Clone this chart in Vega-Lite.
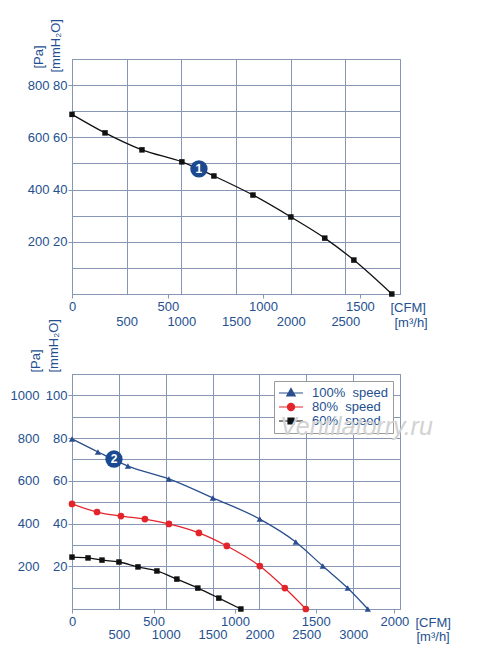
{
  "$schema": "https://vega.github.io/schema/vega-lite/v6.json",
  "padding": {"left": 9, "top": 18, "right": 5, "bottom": 5},
  "background": "white",
  "bounds": "flush",
  "spacing": 80,
  "datasets": {
    "top": [
      {"q": 0, "p": 688}, {"q": 302, "p": 617}, {"q": 640, "p": 552}, {"q": 1005, "p": 506},
      {"q": 1298, "p": 452}, {"q": 1655, "p": 379}, {"q": 2002, "p": 295}, {"q": 2312, "p": 214},
      {"q": 2578, "p": 130}, {"q": 2925, "p": 0}
    ],
    "bottom": [
      {"series": "100%\u00a0 speed", "q": 0, "p": 796}, {"series": "100%\u00a0 speed", "q": 277, "p": 735},
      {"series": "100%\u00a0 speed", "q": 597, "p": 669}, {"series": "100%\u00a0 speed", "q": 1034, "p": 609},
      {"series": "100%\u00a0 speed", "q": 1503, "p": 520}, {"series": "100%\u00a0 speed", "q": 2004, "p": 421},
      {"series": "100%\u00a0 speed", "q": 2388, "p": 314}, {"series": "100%\u00a0 speed", "q": 2676, "p": 201},
      {"series": "100%\u00a0 speed", "q": 2942, "p": 98}, {"series": "100%\u00a0 speed", "q": 3156, "p": 0},
      {"series": "80%\u00a0 speed", "q": 0, "p": 492}, {"series": "80%\u00a0 speed", "q": 267, "p": 454},
      {"series": "80%\u00a0 speed", "q": 522, "p": 435}, {"series": "80%\u00a0 speed", "q": 778, "p": 421},
      {"series": "80%\u00a0 speed", "q": 1034, "p": 398}, {"series": "80%\u00a0 speed", "q": 1354, "p": 356},
      {"series": "80%\u00a0 speed", "q": 1652, "p": 295}, {"series": "80%\u00a0 speed", "q": 2004, "p": 201},
      {"series": "80%\u00a0 speed", "q": 2271, "p": 98}, {"series": "80%\u00a0 speed", "q": 2495, "p": 0},
      {"series": "60%\u00a0 speed", "q": 0, "p": 243}, {"series": "60%\u00a0 speed", "q": 171, "p": 239},
      {"series": "60%\u00a0 speed", "q": 320, "p": 229}, {"series": "60%\u00a0 speed", "q": 501, "p": 220},
      {"series": "60%\u00a0 speed", "q": 704, "p": 197}, {"series": "60%\u00a0 speed", "q": 906, "p": 178},
      {"series": "60%\u00a0 speed", "q": 1119, "p": 140}, {"series": "60%\u00a0 speed", "q": 1343, "p": 98},
      {"series": "60%\u00a0 speed", "q": 1567, "p": 51}, {"series": "60%\u00a0 speed", "q": 1802, "p": 0}
    ]
  },
  "vconcat": [
    {
      "width": 328,
      "height": 235,
      "layer": [
        {
          "data": {"name": "top"},
          "mark": {"type": "line", "interpolate": "monotone", "color": "#111111", "strokeWidth": 1.3},
          "encoding": {
            "x": {
              "field": "q", "type": "quantitative",
              "scale": {"domain": [0, 3000], "nice": false},
              "axis": {
                "orient": "bottom", "values": [0, 500, 1000, 1500, 2000, 2500, 3000],
                "grid": true, "ticks": false, "domain": false,
                "labelExpr": "datum.value > 0 && datum.value < 3000 ? datum.value : ''",
                "labelPadding": 21, "labelDx": 5,
                "title": "[m³/h]", "titleX": 322, "titleY": 28, "titleAlign": "left", "titleBaseline": "middle"
              }
            },
            "y": {
              "field": "p", "type": "quantitative",
              "scale": {"domain": [0, 900], "nice": false},
              "axis": {
                "orient": "left", "values": [0, 100, 200, 300, 400, 500, 600, 700, 800, 900],
                "grid": true, "domain": false, "tickSize": 4,
                "tickOpacity": {"condition": {"test": "datum.value % 200 == 0 && datum.value > 0", "value": 1}, "value": 0},
                "labelExpr": "datum.value % 200 == 0 && datum.value > 0 ? datum.value / 10 : ''",
                "labelPadding": 1,
                "title": "[mmH₂O]", "titleX": -17, "titleY": 13, "titleAngle": -90, "titleAlign": "left", "titleBaseline": "middle"
              }
            }
          }
        },
        {
          "data": {"name": "top"},
          "mark": {"type": "square", "size": 30, "color": "#111111", "opacity": 1},
          "encoding": {
            "x": {
              "field": "q", "type": "quantitative",
              "axis": {
                "orient": "bottom", "values": [0, 877, 1746, 2633],
                "grid": false, "domain": false, "tickSize": 4,
                "labelExpr": "round(datum.value / 1.72 / 500) * 500",
                "labelPadding": 2,
                "title": "[CFM]", "titleX": 318, "titleY": 13, "titleAlign": "left", "titleBaseline": "middle"
              }
            },
            "y": {
              "field": "p", "type": "quantitative",
              "axis": {
                "orient": "left", "values": [200, 400, 600, 800], "format": "d",
                "grid": false, "domain": false, "ticks": false,
                "labelPadding": 23,
                "title": "[Pa]", "titleX": -34, "titleY": 9, "titleAngle": -90, "titleAlign": "left", "titleBaseline": "middle"
              }
            }
          }
        },
        {
          "data": {"values": [{"q": 1161, "p": 479, "t": "1"}]},
          "mark": {"type": "circle", "size": 300, "color": "#1b4a91", "opacity": 1},
          "encoding": {
            "x": {"field": "q", "type": "quantitative", "axis": null},
            "y": {"field": "p", "type": "quantitative", "axis": null}
          }
        },
        {
          "data": {"values": [{"q": 1161, "p": 479, "t": "1"}]},
          "mark": {"type": "text", "color": "white", "font": "Liberation Sans", "fontSize": 12, "fontWeight": "bold", "baseline": "middle", "align": "center"},
          "encoding": {
            "x": {"field": "q", "type": "quantitative", "axis": null},
            "y": {"field": "p", "type": "quantitative", "axis": null},
            "text": {"field": "t"}
          }
        }
      ],
      "resolve": {"axis": {"x": "independent", "y": "independent"}}
    },
    {
      "width": 328,
      "height": 235,
      "title": {
        "text": "Ventilatorry.ru", "orient": "top", "anchor": "start", "frame": "group",
        "offset": 0, "dx": 208, "dy": 141, "baseline": "alphabetic",
        "font": "Liberation Sans", "fontSize": 25, "fontStyle": "italic", "fontWeight": "normal", "color": "#d2d2d2"
      },
      "layer": [
        {
          "data": {"name": "bottom"},
          "mark": {"type": "line", "interpolate": "monotone", "strokeWidth": 1.3},
          "encoding": {
            "x": {
              "field": "q", "type": "quantitative",
              "scale": {"domain": [0, 3500], "nice": false},
              "axis": {
                "orient": "bottom", "values": [0, 500, 1000, 1500, 2000, 2500, 3000, 3500],
                "grid": true, "ticks": false, "domain": false,
                "labelExpr": "datum.value > 0 && datum.value < 3500 ? datum.value : ''",
                "labelPadding": 19, "labelDx": 5,
                "title": "[m³/h]", "titleX": 344, "titleY": 27, "titleAlign": "left", "titleBaseline": "middle"
              }
            },
            "y": {
              "field": "p", "type": "quantitative",
              "scale": {"domain": [0, 1100], "nice": false},
              "axis": {
                "orient": "left", "values": [0, 100, 200, 300, 400, 500, 600, 700, 800, 900, 1000, 1100],
                "grid": true, "domain": false, "tickSize": 4,
                "tickOpacity": {"condition": {"test": "datum.value % 200 == 0 && datum.value > 0 && datum.value < 1100", "value": 1}, "value": 0},
                "labelExpr": "datum.value % 200 == 0 && datum.value > 0 && datum.value < 1100 ? datum.value / 10 : ''",
                "labelPadding": 1,
                "title": "[mmH₂O]", "titleX": -19, "titleY": -2, "titleAngle": -90, "titleAlign": "left", "titleBaseline": "middle"
              }
            },
            "detail": {"field": "series", "type": "nominal"},
            "stroke": {
              "field": "series", "type": "nominal",
              "scale": {"domain": ["100%\u00a0 speed", "80%\u00a0 speed", "60%\u00a0 speed"], "range": ["#2a4e8e", "#e3242b", "#111111"]},
              "legend": {
                "orient": "top-right", "offset": 7, "title": null,
                "fillColor": "white", "strokeColor": "#9a9a9a", "padding": 5,
                "symbolSize": 144, "symbolStrokeWidth": 1.2, "symbolOffset": 5,
                "labelFont": "Liberation Sans", "labelFontSize": 13, "labelColor": "#24508f",
                "labelOffset": 14, "rowPadding": -0.5,
                "encode": {
                  "symbols": {
                    "update": {
                      "shape": {"signal": "datum.index == 0 ? 'M-2,0H2M0,-0.75L0.7,0.5L-0.7,0.5Z' : datum.index == 1 ? 'M-2,0H2M-0.6,0A0.6,0.6 0 1,0 0.6,0A0.6,0.6 0 1,0 -0.6,0Z' : 'M-2,0H2M-0.5,-0.5H0.5V0.5H-0.5Z'"},
                      "fill": {"signal": "datum.index == 0 ? '#2a4e8e' : datum.index == 1 ? '#e3242b' : '#111111'"}
                    }
                  }
                }
              }
            }
          }
        },
        {
          "data": {"name": "bottom"},
          "transform": [{"filter": "datum.series == '100%\u00a0 speed'"}],
          "mark": {"type": "point", "shape": "triangle-up", "filled": true, "size": 40, "color": "#2a4e8e", "opacity": 1},
          "encoding": {
            "x": {
              "field": "q", "type": "quantitative",
              "axis": {
                "orient": "bottom", "values": [0, 870, 1740, 2600, 3440],
                "grid": false, "domain": false, "tickSize": 4,
                "labelExpr": "round(datum.value / 1.72 / 500) * 500",
                "labelPadding": 2,
                "title": "[CFM]", "titleX": 343, "titleY": 13, "titleAlign": "left", "titleBaseline": "middle"
              }
            },
            "y": {
              "field": "p", "type": "quantitative",
              "axis": {
                "orient": "left", "values": [200, 400, 600, 800, 1000], "format": "d",
                "grid": false, "domain": false, "ticks": false,
                "labelPadding": 33,
                "title": "[Pa]", "titleX": -37, "titleY": -2, "titleAngle": -90, "titleAlign": "left", "titleBaseline": "middle"
              }
            }
          }
        },
        {
          "data": {"name": "bottom"},
          "transform": [{"filter": "datum.series == '80%\u00a0 speed'"}],
          "mark": {"type": "circle", "size": 45, "color": "#e3242b", "opacity": 1},
          "encoding": {
            "x": {"field": "q", "type": "quantitative", "axis": null},
            "y": {"field": "p", "type": "quantitative", "axis": null}
          }
        },
        {
          "data": {"name": "bottom"},
          "transform": [{"filter": "datum.series == '60%\u00a0 speed'"}],
          "mark": {"type": "square", "size": 30, "color": "#111111", "opacity": 1},
          "encoding": {
            "x": {"field": "q", "type": "quantitative", "axis": null},
            "y": {"field": "p", "type": "quantitative", "axis": null}
          }
        },
        {
          "data": {"values": [{"q": 448, "p": 702, "t": "2"}]},
          "mark": {"type": "circle", "size": 300, "color": "#1b4a91", "opacity": 1},
          "encoding": {
            "x": {"field": "q", "type": "quantitative", "axis": null},
            "y": {"field": "p", "type": "quantitative", "axis": null}
          }
        },
        {
          "data": {"values": [{"q": 448, "p": 702, "t": "2"}]},
          "mark": {"type": "text", "color": "white", "font": "Liberation Sans", "fontSize": 12, "fontWeight": "bold", "baseline": "middle", "align": "center"},
          "encoding": {
            "x": {"field": "q", "type": "quantitative", "axis": null},
            "y": {"field": "p", "type": "quantitative", "axis": null},
            "text": {"field": "t"}
          }
        }
      ],
      "resolve": {"axis": {"x": "independent", "y": "independent"}}
    }
  ],
  "resolve": {"scale": {"stroke": "independent"}, "legend": {"stroke": "independent"}},
  "config": {
    "view": {"stroke": "#8896b6", "strokeWidth": 1},
    "axis": {
      "labelFont": "Liberation Sans", "labelFontSize": 13, "labelColor": "#24508f",
      "titleFont": "Liberation Sans", "titleFontSize": 13, "titleColor": "#24508f", "titleFontWeight": "normal",
      "gridColor": "#8896b6", "gridOpacity": 1, "tickColor": "#8896b6",
      "labelFlush": false, "labelOverlap": false, "labelBound": false
    }
  }
}
